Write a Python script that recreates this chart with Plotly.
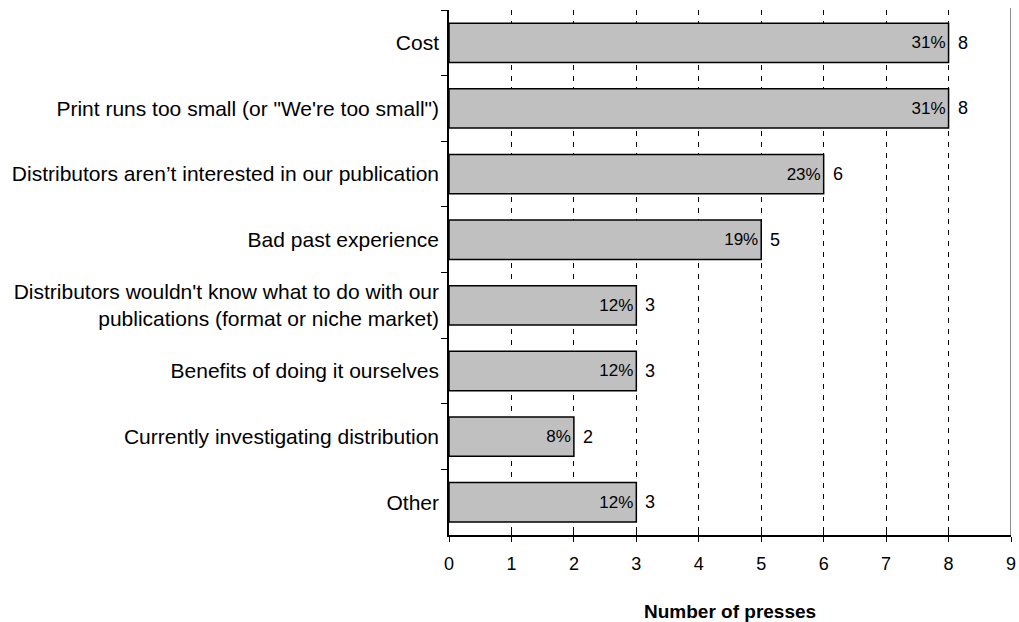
import plotly.graph_objects as go

# Reasons presses give for not using a distributor
categories = [
    "Cost",
    "Print runs too small (or \"We're too small\")",
    "Distributors aren\u2019t interested in our publication",
    "Bad past experience",
    "Distributors wouldn't know what to do with our<br>publications (format or niche market)",
    "Benefits of doing it ourselves",
    "Currently investigating distribution",
    "Other",
]
counts = [8, 8, 6, 5, 3, 3, 2, 3]
percents = ["31%", "31%", "23%", "19%", "12%", "12%", "8%", "12%"]
x_ticks = [0, 1, 2, 3, 4, 5, 6, 7, 8, 9]
x_title = "Number of presses"

FONT = "Arial, 'Liberation Sans', sans-serif"

fig = go.Figure()

fig.add_trace(go.Bar(
    x=counts,
    y=categories,
    orientation="h",
    marker=dict(color="#C0C0C0", line=dict(color="#000000", width=1.5)),
    text=percents,
    textposition="inside",
    insidetextanchor="end",
    textangle=0,
    constraintext="none",
    textfont=dict(family=FONT, size=17, color="#000000"),
    width=0.6,
    hoverinfo="skip",
    showlegend=False,
))

# count labels just right of each bar
for cat, n in zip(categories, counts):
    fig.add_annotation(
        x=n, y=cat, text=str(n), showarrow=False,
        xanchor="left", xshift=7,
        font=dict(family=FONT, size=18, color="#000000"),
    )

# x-axis title placed below the tick labels
fig.add_annotation(
    x=0.5, y=0, xref="paper", yref="paper",
    text="<b>" + x_title + "</b>", showarrow=False,
    xanchor="center", yanchor="middle", yshift=-76,
    font=dict(family=FONT, size=19, color="#000000"),
)

# gray right-hand border of the plot area at the axis maximum
fig.add_shape(type="line", xref="x", yref="paper",
              x0=x_ticks[-1], x1=x_ticks[-1], y0=0, y1=1.004,
              line=dict(color="#8c8c8c", width=2))

# overlay axis supplies the short inner half of the crossing x ticks
fig.add_trace(go.Scatter(x=[x_ticks[0]], y=[None], xaxis="x2",
                         hoverinfo="skip", showlegend=False))

fig.update_layout(
    width=1019, height=622,
    margin=dict(l=449, r=8, t=10, b=87),
    paper_bgcolor="white",
    plot_bgcolor="white",
    font=dict(family=FONT, size=17, color="#000000"),
    bargap=0.4,
    xaxis=dict(
        range=[x_ticks[0], x_ticks[-1]],
        tickvals=x_ticks,
        ticks="outside", ticklen=5, tickwidth=1, tickcolor="#000000",
        ticklabelstandoff=7,
        showline=True, linecolor="#000000", linewidth=1.5,
        showgrid=True, gridcolor="#000000", gridwidth=1, griddash="5px,6px",
        zeroline=False, automargin=False,
        tickfont=dict(family=FONT, size=18, color="#000000"),
        fixedrange=True,
    ),
    xaxis2=dict(
        overlaying="x", anchor="y", side="bottom",
        range=[x_ticks[0], x_ticks[-1]],
        tickvals=x_ticks, showticklabels=False,
        ticks="inside", ticklen=4, tickwidth=1, tickcolor="#000000",
        showgrid=False, zeroline=False, showline=False, automargin=False,
        fixedrange=True,
    ),
    yaxis=dict(
        type="category",
        categoryorder="array", categoryarray=categories,
        autorange="reversed",
        tickson="boundaries",
        ticks="outside", ticklen=6, tickwidth=1, tickcolor="#000000",
        ticklabelstandoff=4,
        showline=True, linecolor="#000000", linewidth=1.5,
        showgrid=False, zeroline=False, automargin=False,
        tickfont=dict(family=FONT, size=21),
        fixedrange=True,
    ),
)

fig.write_html("out.html")
